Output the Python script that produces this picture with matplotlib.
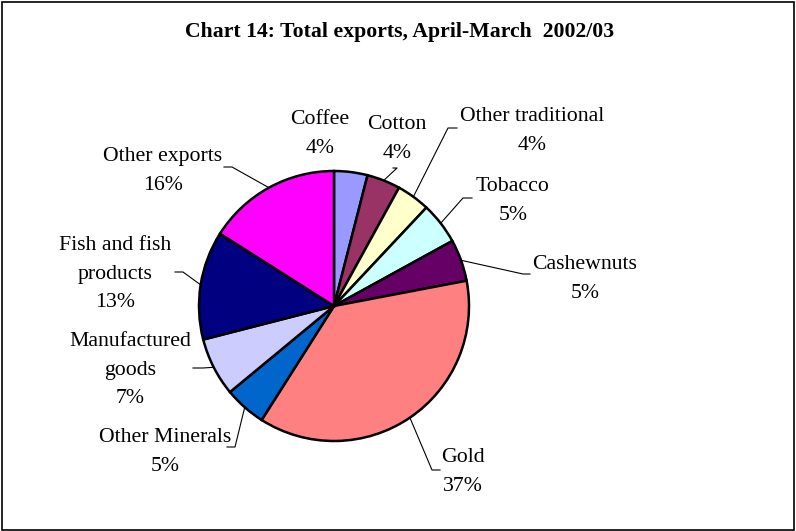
import numpy as np
import matplotlib
matplotlib.use("Agg")
import matplotlib.pyplot as plt
from matplotlib.patches import Rectangle

plt.rcParams['font.family'] = ['Liberation Serif', 'DejaVu Serif']

# export shares, clockwise from 12 o'clock
labels = ["Coffee", "Cotton", "Other traditional", "Tobacco", "Cashewnuts",
          "Gold", "Other Minerals", "Manufactured\ngoods",
          "Fish and fish\nproducts", "Other exports"]
shares = [4, 4, 4, 5, 5, 37, 5, 7, 13, 16]
colors = ["#9999FF", "#993366", "#FFFFCC", "#CCFFFF", "#660066",
          "#FF8080", "#0066CC", "#CCCCFF", "#000080", "#FF00FF"]

W, H = 796, 531
cx, cy, r = 334, H - 306, 135

# label centres and leader elbows, in pixels from the top-left corner
label_pos = [(320, 134), (397, 139), (532, 131), (513, 201), (585, 279),
             (463, 472), (165, 452), (130, 370), (115, 274), (163, 171)]
leaders = [None,
           [(397, 168), (393, 168)],
           [(448, 128), (457, 128)],
           [(463, 198), (472, 198)],
           [(523, 274), (530, 274)],
           [(432, 470), (440, 470)],
           [(235, 447), (227, 447)],
           [(203, 368), (193, 368)],
           [(183, 272), (175, 272)],
           [(232, 167), (224, 167)]]

fig = plt.figure(figsize=(W / 100, H / 100), dpi=100)
ax = fig.add_axes([0, 0, 1, 1])

wedges, _ = ax.pie(shares, colors=colors, startangle=90, counterclock=False,
                   center=(cx, cy), radius=r,
                   wedgeprops=dict(edgecolor="black", linewidth=1.8))
ax.set_xlim(0, W)
ax.set_ylim(0, H)
ax.set_aspect("equal")
ax.axis("off")

total = float(sum(shares))
start = 0.0
for lab, val, pos, lead in zip(labels, shares, label_pos, leaders):
    mid = np.deg2rad(360 * (start + val / 2) / total)
    start += val
    ax.text(pos[0], H - pos[1], "%s\n%d%%" % (lab, round(val / total * 100)),
            ha="center", va="center", fontsize=15.7, linespacing=1.65)
    if lead:
        px = [cx + r * np.sin(mid)] + [p[0] for p in lead]
        py = [cy + r * np.cos(mid)] + [H - p[1] for p in lead]
        ax.plot(px, py, color="black", linewidth=0.8)

ax.text(400, H - 32, "Chart 14: Total exports, April-March  2002/03",
        ha="center", va="center", fontsize=15.7, fontweight="bold")

fig.patches.append(Rectangle((1.5 / W, 1.5 / H), 1 - 3.5 / W, 1 - 3.5 / H,
                             transform=fig.transFigure, fill=False,
                             edgecolor="black", linewidth=1.2))

fig.savefig("out.png", dpi=100)
